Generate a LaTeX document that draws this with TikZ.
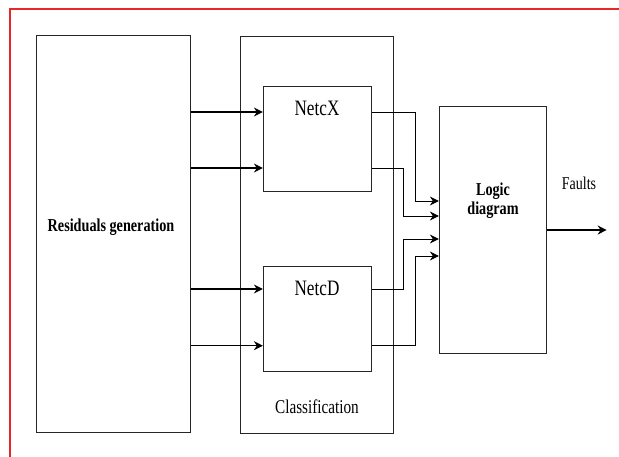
\documentclass[tikz,border=0pt]{standalone}
\usepackage{fontspec}
\setmainfont{Liberation Serif}
\usetikzlibrary{arrows.meta}
\newcommand{\squeezetxt}[1]{\scalebox{0.78}[1]{#1}}
\definecolor{framered}{RGB}{232,40,40}
\begin{document}
\begin{tikzpicture}[x=1pt,y=-1pt,
  box/.style={draw=black!85, line width=0.8pt, rectangle, inner sep=0pt},
  lbl/.style={inner sep=0pt, align=center},
  inarrow/.style={line width=1.4pt, -{Stealth[length=9pt,width=9pt]}},
  outline/.style={line width=1pt, -{Stealth[length=9pt,width=9pt]}},
  frame/.style={draw=framered, line width=1.8pt}]
\useasboundingbox (0,0) rectangle (619,456);
\draw[frame] (9.7,457) -- (9.7,8.7) -- (620,8.7);
% boxes
\node[box, minimum width=154.2pt, minimum height=397pt] (res) at (113.4,234.2) {};
\node[box, minimum width=153pt, minimum height=397pt] (cls) at (316.5,235.1) {};
\node[box, minimum width=108.4pt, minimum height=104.3pt] (nx) at (317.5,138.85) {};
\node[box, minimum width=108.4pt, minimum height=105pt] (nd) at (317.5,319.2) {};
\node[box, minimum width=107.4pt, minimum height=246.6pt] (logic) at (493,230) {};
% labels
\node[lbl, font=\fontsize{18.2}{21.8}\selectfont\bfseries] (restext) at (111,227) {\squeezetxt{Residuals generation}};
\node[lbl, font=\fontsize{18.2}{21.8}\selectfont\bfseries] (logictext) at (493,201) {\squeezetxt{\begin{tabular}{@{}c@{}}Logic\\[-3pt]diagram\end{tabular}}};
\node[lbl, font=\fontsize{22}{26}\selectfont] (nxtext) at (317,108) {\squeezetxt{NetcX}};
\node[lbl, font=\fontsize{22}{26}\selectfont] (ndtext) at (317,288) {\squeezetxt{NetcD}};
\node[lbl, font=\fontsize{19.5}{23}\selectfont] (clstext) at (317,407) {\squeezetxt{Classification}};
\node[lbl, font=\fontsize{18}{21}\selectfont] (faults) at (579,183) {\squeezetxt{Faults}};
% rows
\coordinate (r1) at (0,112);
\coordinate (r2) at (0,168);
\coordinate (r3) at (0,289);
\coordinate (r4) at (0,345.7);
\coordinate (l1) at (0,201);
\coordinate (l2) at (0,216);
\coordinate (l3) at (0,239);
\coordinate (l4) at (0,256);
\coordinate (ca) at (403,0);
\coordinate (cb) at (415,0);
\coordinate (fend) at (606.7,230);
% inputs
\draw[inarrow] (res.east |- r1) -- (nx.west |- r1);
\draw[inarrow] (res.east |- r2) -- (nx.west |- r2);
\draw[inarrow] (res.east |- r3) -- (nd.west |- r3);
\draw[inarrow] (res.east |- r4) -- (nd.west |- r4);
% outputs to logic
\draw[outline] (nx.east |- r1) -- (cb |- r1) -- (cb |- l1) -- (logic.west |- l1);
\draw[outline] (nx.east |- r2) -- (ca |- r2) -- (ca |- l2) -- (logic.west |- l2);
\draw[outline] (nd.east |- r3) -- (ca |- r3) -- (ca |- l3) -- (logic.west |- l3);
\draw[outline] (nd.east |- r4) -- (cb |- r4) -- (cb |- l4) -- (logic.west |- l4);
% faults
\draw[inarrow] (logic.east |- fend) -- (fend);
\end{tikzpicture}
\end{document}
